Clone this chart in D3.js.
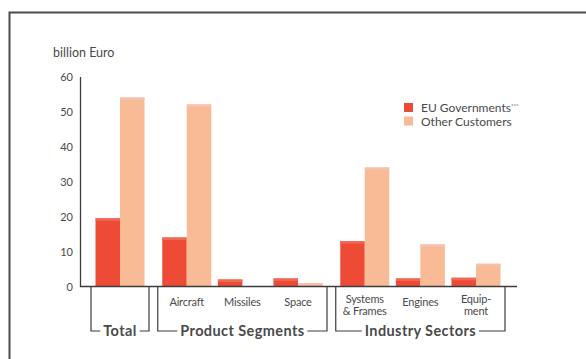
<!DOCTYPE html>
<html>
<head>
<meta charset="utf-8">
<script src="https://cdn.jsdelivr.net/npm/d3@7"></script>
<style>
  html, body { margin: 0; padding: 0; background: #fff; }
  svg { display: block; font-family: Lato, "Open Sans", sans-serif; }
</style>
</head>
<body>
<svg id="chart" width="586" height="359"></svg>
<script>
// Turnover by customer, billion Euro
const categories = ["Total", "Aircraft", "Missiles", "Space", "Systems\n& Frames", "Engines", "Equip-\nment"];
const categoryGroup = [0, 1, 1, 1, 2, 2, 2];
const groups = ["Total", "Product Segments", "Industry Sectors"];
const series = ["EU Governments***", "Other Customers"];
const euGovernments = [19.5, 14, 2, 2.3, 13, 2.3, 2.5];
const otherCustomers = [54, 52, 0, 1, 34, 12, 6.5];
const yTicks = [0, 10, 20, 30, 40, 50, 60];

const colors = ["#ee4b37", "#f9bb95"];
const textColor = "#4a4a4a";

const svg = d3.select("#chart");

// outer frame (top and left edges)
svg.append("path")
  .attr("d", "M586,12.5H9.5V359")
  .attr("fill", "none")
  .attr("stroke", "#4d4d4d")
  .attr("stroke-width", 2);

const y = d3.scaleLinear().domain([0, 60]).range([286.5, 76.5]);

// slot position of each category: one unit per category plus a gap between groups
const slot = categories.map((c, i) => i + 0.2 * categoryGroup[i]);
const x = d3.scaleLinear().domain([0, d3.max(slot)]).range([120, 476]);
const inner = d3.scaleBand().domain(series).range([-24.5, 24.5]);

// y axis
const yAxis = d3.axisLeft(y).tickValues(yTicks).tickSize(0).tickPadding(7);
const gy = svg.append("g").attr("transform", "translate(80,0)").call(yAxis);
gy.select(".domain").attr("stroke", "#3d3d3d").attr("stroke-width", 1.3);
gy.selectAll("text").attr("fill", textColor).attr("font-size", 11).attr("font-family", "Lato, sans-serif");

svg.append("text")
  .attr("x", 53).attr("y", 57)
  .attr("fill", textColor)
  .attr("font-size", 12.5)
  .text("billion Euro");

// bars
const rows = categories.map((c, i) => ({ c, i, values: [euGovernments[i], otherCustomers[i]] }));
const gBars = svg.append("g");
rows.forEach(r => {
  r.values.forEach((v, k) => {
    if (v <= 0) return;
    gBars.append("rect")
      .attr("x", x(slot[r.i]) + inner(series[k]))
      .attr("y", y(v))
      .attr("width", inner.bandwidth())
      .attr("height", y(0) - y(v))
      .attr("fill", colors[k]);
    // lighter strip along the top of each bar
    gBars.append("rect")
      .attr("x", x(slot[r.i]) + inner(series[k]))
      .attr("y", y(v))
      .attr("width", inner.bandwidth())
      .attr("height", Math.min(2.5, y(0) - y(v)))
      .attr("fill", k === 0 ? "#f06a58" : "#f7c0b0");
  });
});

// baseline
svg.append("line")
  .attr("x1", 80).attr("x2", 517)
  .attr("y1", y(0)).attr("y2", y(0))
  .attr("stroke", "#3d3d3d").attr("stroke-width", 1.3);

// category labels (one text per line)
categories.forEach((c, i) => {
  if (categoryGroup[i] === 0) return;
  const lines = c.split("\n");
  lines.forEach((l, j) => {
    svg.append("text")
      .attr("x", x(slot[i]))
      .attr("y", (lines.length > 1 ? 303 : 306) + j * 12)
      .attr("text-anchor", "middle")
      .attr("fill", textColor)
      .attr("font-size", 11)
      .attr("letter-spacing", -0.2)
      .text(l);
  });
});

// group brackets
const bracketY = 331;
groups.forEach((gName, gi) => {
  const idx = d3.range(categories.length).filter(i => categoryGroup[i] === gi);
  const left = x(slot[idx[0]]) - 29;
  const right = x(slot[idx[idx.length - 1]]) + 29;
  const mid = (x(slot[idx[0]]) + x(slot[idx[idx.length - 1]])) / 2;
  const label = svg.append("text")
    .attr("x", mid).attr("y", bracketY + 5)
    .attr("text-anchor", "middle")
    .attr("fill", textColor)
    .attr("font-size", 14.5)
    .attr("font-weight", "bold")
    .attr("letter-spacing", 0.4)
    .text(gName);
  const w = label.node().getComputedTextLength();
  const gap = 3;
  svg.append("path")
    .attr("d", `M${left},${y(0)}V${bracketY}H${mid - w / 2 - gap}M${mid + w / 2 + gap},${bracketY}H${right}V${y(0)}`)
    .attr("fill", "none")
    .attr("stroke", "#3d3d3d")
    .attr("stroke-width", 1.2);
});

// legend
const legend = svg.append("g").attr("transform", "translate(404,103)");
series.forEach((s, k) => {
  const row = legend.append("g").attr("transform", `translate(0,${k * 13.5})`);
  row.append("rect").attr("width", 9).attr("height", 9).attr("fill", colors[k]);
  row.append("text")
    .attr("x", 17).attr("y", 9)
    .attr("fill", textColor)
    .attr("font-size", 12)
    .text(s.replace("***", ""))
    .append("tspan")
    .attr("font-size", 6).attr("dy", -4)
    .text(s.endsWith("***") ? "***" : "");
});
</script>
</body>
</html>
